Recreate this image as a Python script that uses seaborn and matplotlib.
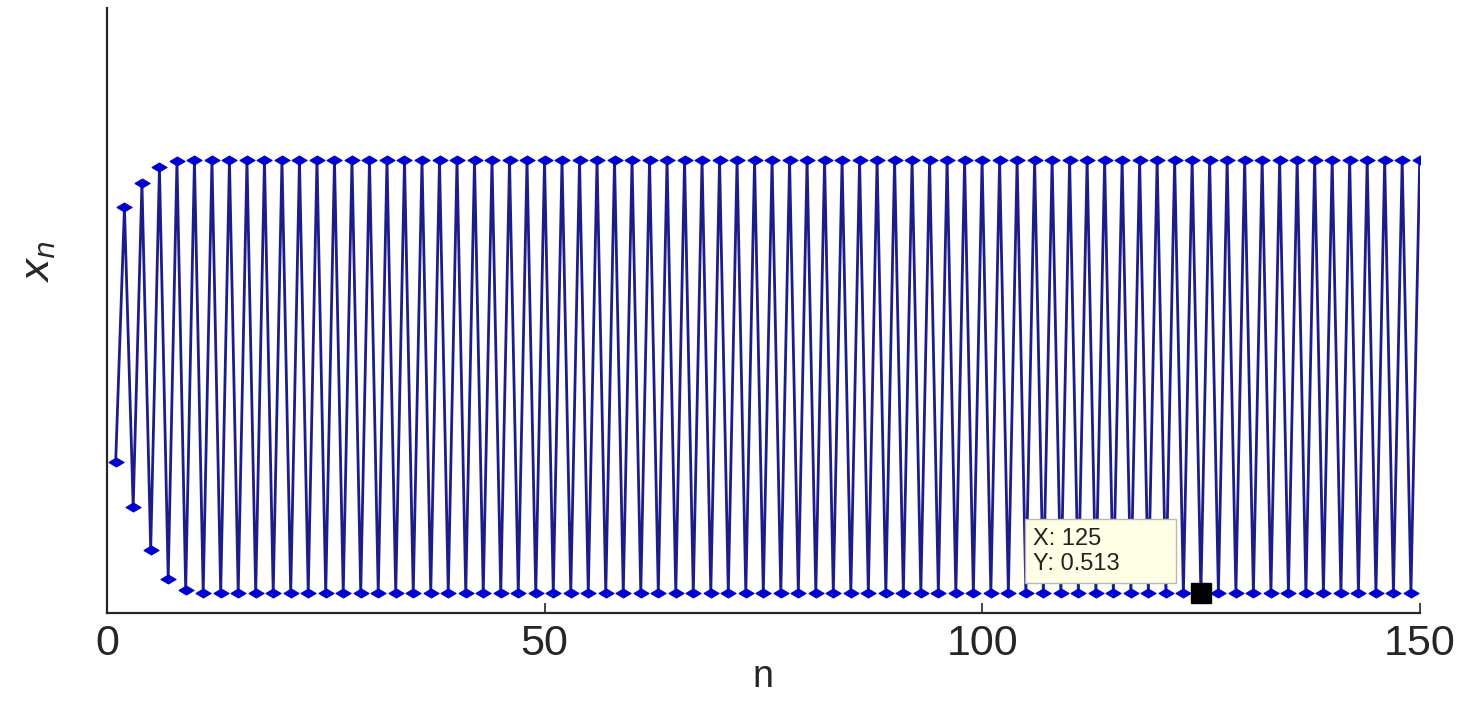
import matplotlib
matplotlib.use("Agg")
import matplotlib.pyplot as plt
import numpy as np
import pandas as pd
import seaborn as sns

# iterates, plotted at n = 1..150
n_vals = list(range(1, 151))
x_vals = [
    0.6000, 0.7680, 0.5702, 0.7842, 0.5415, 0.7945, 0.5225, 0.7984, 0.5151, 0.7993,
    0.5134, 0.7994, 0.5131, 0.7995, 0.5131, 0.7995, 0.5130, 0.7995, 0.5130, 0.7995,
    0.5130, 0.7995, 0.5130, 0.7995, 0.5130, 0.7995, 0.5130, 0.7995, 0.5130, 0.7995,
    0.5130, 0.7995, 0.5130, 0.7995, 0.5130, 0.7995, 0.5130, 0.7995, 0.5130, 0.7995,
    0.5130, 0.7995, 0.5130, 0.7995, 0.5130, 0.7995, 0.5130, 0.7995, 0.5130, 0.7995,
    0.5130, 0.7995, 0.5130, 0.7995, 0.5130, 0.7995, 0.5130, 0.7995, 0.5130, 0.7995,
    0.5130, 0.7995, 0.5130, 0.7995, 0.5130, 0.7995, 0.5130, 0.7995, 0.5130, 0.7995,
    0.5130, 0.7995, 0.5130, 0.7995, 0.5130, 0.7995, 0.5130, 0.7995, 0.5130, 0.7995,
    0.5130, 0.7995, 0.5130, 0.7995, 0.5130, 0.7995, 0.5130, 0.7995, 0.5130, 0.7995,
    0.5130, 0.7995, 0.5130, 0.7995, 0.5130, 0.7995, 0.5130, 0.7995, 0.5130, 0.7995,
    0.5130, 0.7995, 0.5130, 0.7995, 0.5130, 0.7995, 0.5130, 0.7995, 0.5130, 0.7995,
    0.5130, 0.7995, 0.5130, 0.7995, 0.5130, 0.7995, 0.5130, 0.7995, 0.5130, 0.7995,
    0.5130, 0.7995, 0.5130, 0.7995, 0.5130, 0.7995, 0.5130, 0.7995, 0.5130, 0.7995,
    0.5130, 0.7995, 0.5130, 0.7995, 0.5130, 0.7995, 0.5130, 0.7995, 0.5130, 0.7995,
    0.5130, 0.7995, 0.5130, 0.7995, 0.5130, 0.7995, 0.5130, 0.7995, 0.5130, 0.7995,
]
x_ticks = [0, 50, 100, 150]
tip_n = 125
tip_y = 0.513

df = pd.DataFrame({"n": n_vals, "x": x_vals})

sns.set_style("ticks")
plt.rcParams["font.family"] = ["Liberation Sans", "DejaVu Sans"]

# flat diamond like the stretched reference markers
flat_diamond = [(-1.7, 0), (0, 1), (1.7, 0), (0, -1), (-1.7, 0)]

fig = plt.figure(figsize=(14.75, 7.02), dpi=100)
ax = fig.add_axes([0.0725, 0.127, 0.89, 0.862])

sns.lineplot(data=df, x="n", y="x", ax=ax, color="#1c1c8a", linewidth=2.0,
             marker=flat_diamond, markersize=11, markerfacecolor="#0000d0",
             markeredgecolor="#0000d0", sort=False, estimator=None)

# data tip (trailing spaces widen the box like the matlab datatip)
ax.plot([tip_n], [tip_y], marker="s", markersize=14, color="black", zorder=5)
ax.annotate("X: 125" + " " * 10 + "\nY: 0.513" + " " * 7, xy=(tip_n, tip_y),
            xytext=(-121, 13), textcoords="offset points", fontsize=17,
            color="#222222", linespacing=1.2, va="bottom", ha="left",
            bbox=dict(boxstyle="square,pad=0.35", fc="#ffffe6", ec="#b8b8b8", lw=1))

ax.set_xlim(0, 150)
ax.set_ylim(0.5, 0.9)
ax.set_xticks(x_ticks)
ax.set_yticks([])
ax.tick_params(axis="x", direction="in", length=7, width=1.2, labelsize=31, pad=8)
ax.set_xlabel("n", fontsize=27)
ax.xaxis.set_label_coords(0.5, -0.076)
ax.set_ylabel(r"$x_n$", fontsize=29)
ax.yaxis.set_label_coords(-0.037, 0.58)
for side in ["top", "right"]:
    ax.spines[side].set_visible(False)
for side in ["left", "bottom"]:
    ax.spines[side].set_linewidth(1.6)

fig.savefig("out.png", dpi=100)
